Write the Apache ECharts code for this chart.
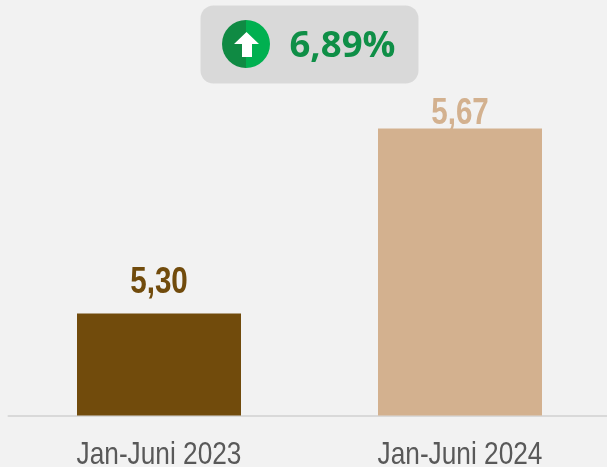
<!DOCTYPE html>
<html><head><meta charset="utf-8">
<style>html,body{margin:0;padding:0;background:#f2f2f2;overflow:hidden}#c{width:607px;height:467px}</style>
<script src="https://cdn.jsdelivr.net/npm/echarts@6/dist/echarts.min.js"></script>
</head><body><div id="c"></div>
<script>
var categories = ['Jan-Juni 2023', 'Jan-Juni 2024'];
var values = [5.30, 5.67];
var barColors = ['#714B0C', '#D3B18F'];
var labelColors = ['#714B0C', '#D3B18F'];
var changeLabel = '6,89%';
var chart = echarts.init(document.getElementById('c'), null, {renderer:'canvas'});
var sans = '"Liberation Sans",Arial,sans-serif';
chart.setOption({
  animation:false,
  backgroundColor:'#f2f2f2',
  grid:{left:8.5,top:115.5,width:602,height:300,outerBoundsMode:'none'},
  xAxis:{type:'category',data:categories,
    axisLine:{show:true,lineStyle:{color:'#d9d9d9',width:2}},
    axisTick:{show:false},axisLabel:{show:false}},
  yAxis:{type:'value',min:5.096,max:5.696,show:false,splitLine:{show:false}},
  series:[{type:'bar',barWidth:164,
    data:values.map(function(v,i){return {value:v,itemStyle:{color:barColors[i]}};})}]
});
// Narrow text: the font has no condensed cut installed, so real text is scaled horizontally,
// anchored at positions obtained from the chart's own scales.
var g = [
  {type:'rect',shape:{x:200.5,y:5.5,width:218,height:78,r:13},style:{fill:'#d9d9d9'}},
  {type:'sector',shape:{cx:246,cy:44,r:24,startAngle:Math.PI/2,endAngle:Math.PI*1.5},style:{fill:'#0F8A43'}},
  {type:'sector',shape:{cx:246,cy:44,r:24,startAngle:-Math.PI/2,endAngle:Math.PI/2},style:{fill:'#00B050'}},
  {type:'polygon',shape:{points:[[246.5,32],[259,44],[252,44],[252,57],[242,57],[242,44],[234,44]]},style:{fill:'#ffffff'}},
  {type:'text',x:289.5,y:47,style:{text:changeLabel,fill:'#0F8F47',font:'bold 36.5px "Open Sans",sans-serif',textVerticalAlign:'middle'}}
];
categories.forEach(function(c,i){
  var p = chart.convertToPixel({xAxisIndex:0,yAxisIndex:0},[i,values[i]]);
  var base = chart.convertToPixel({xAxisIndex:0,yAxisIndex:0},[i,5.096]);
  g.push({type:'text',x:p[0],y:p[1]-(i===0?30.5:15),scaleX:0.8,
    style:{text:values[i].toFixed(2).replace('.',','),fill:labelColors[i],
      font:'bold 37px '+sans,align:'center',verticalAlign:'middle'}});
  g.push({type:'text',x:p[0],y:base[1]+40,scaleX:0.82,
    style:{text:c,fill:'#595959',font:'32px '+sans,align:'center',verticalAlign:'middle'}});
});
chart.setOption({graphic:g});
</script></body></html>
